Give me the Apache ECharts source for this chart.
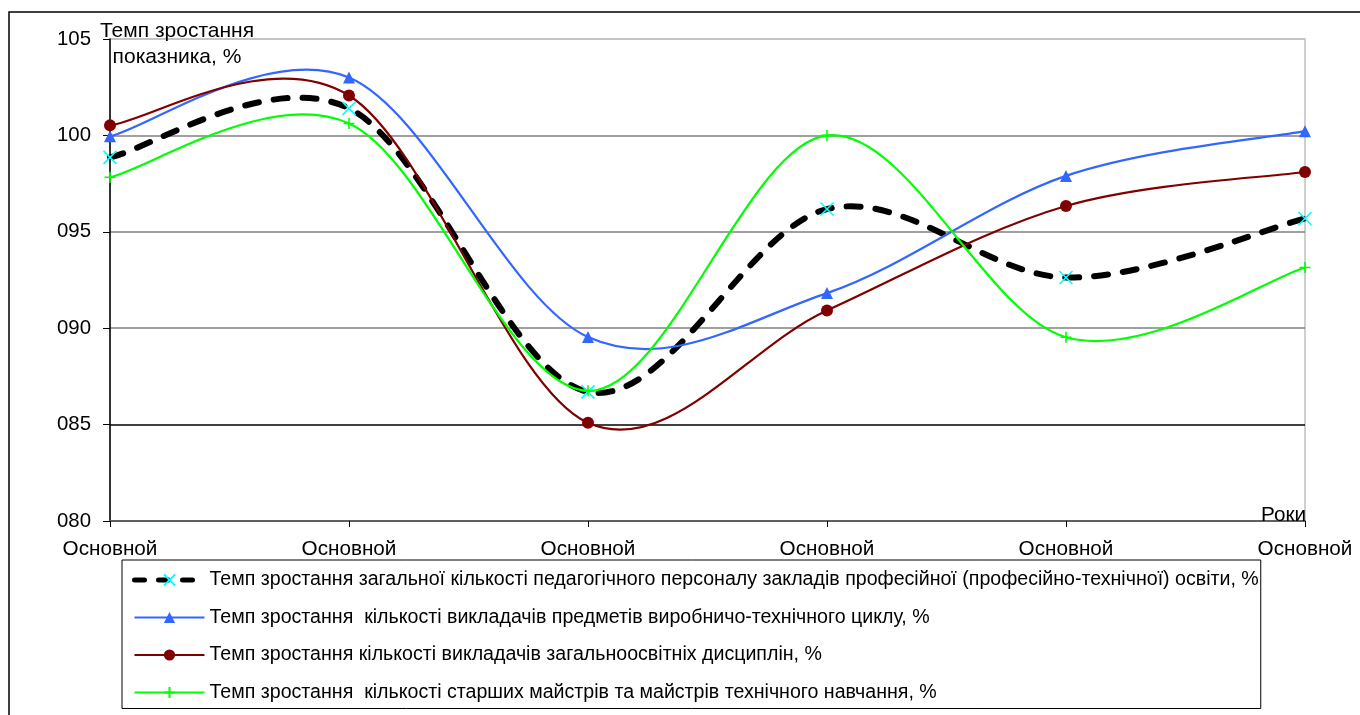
<!DOCTYPE html>
<html>
<head>
<meta charset="utf-8">
<script src="https://cdn.jsdelivr.net/npm/echarts@6/dist/echarts.min.js"></script>
<style>
html,body{margin:0;padding:0;background:#fff;}
#chart{width:1360px;height:715px;}
</style>
</head>
<body>
<div id="chart"></div>
<script>
const categories = ['Основной','Основной','Основной','Основной','Основной','Основной'];
const seriesNames = [
  'Темп зростання загальної кількості педагогічного персоналу закладів професійної (професійно-технічної) освіти, %',
  'Темп зростання  кількості викладачів предметів виробничо-технічного циклу, %',
  'Темп зростання кількості викладачів загальноосвітніх дисциплін, %',
  'Темп зростання  кількості старших майстрів та майстрів технічного навчання, %'
];
const totalStaff = [98.86, 101.4, 86.7, 96.18, 92.63, 95.69];
const vocTeachers = [99.95, 103.0, 89.54, 91.82, 97.9, 100.22];
const genTeachers = [100.52, 102.07, 85.09, 90.92, 96.34, 98.1];
const masters = [97.83, 100.62, 86.75, 100.0, 89.53, 93.15];
const yTicks = [80, 85, 90, 95, 100, 105];
const yAxisTitle = 'Темп зростання\nпоказника, %';
const xAxisTitle = 'Роки';

const FONT = '"Liberation Sans", Arial, sans-serif';
const chart = echarts.init(document.getElementById('chart'));
const xPath = 'path://M0,0L10,10M10,0L0,10';
const plusPath = 'path://M5,0L5,10M0,5L10,5';

const styles = [
  { color: '#000000', width: 6, dash: [14, 15], cap: 'round' },
  { color: '#3366ff', width: 2.2, dash: null, cap: 'butt' },
  { color: '#800000', width: 2.2, dash: null, cap: 'butt' },
  { color: '#00ff00', width: 2.2, dash: null, cap: 'butt' }
];
const dataSets = [totalStaff, vocTeachers, genTeachers, masters];

// Excel-like smoothed curve (Catmull-Rom / Bezier) through points from the axes
function curveSeries(values, st, z) {
  return {
    type: 'custom', silent: true, z: z, clip: false,
    data: values.map((v, i) => [i, v]),
    encode: { x: 0, y: 1 },
    renderItem: function (params, api) {
      if (params.dataIndex !== 0) return null;
      const pts = values.map((v, i) => api.coord([i, v]));
      const n = pts.length;
      let d = 'M' + pts[0][0] + ' ' + pts[0][1];
      for (let i = 0; i < n - 1; i++) {
        const p0 = pts[Math.max(i - 1, 0)], p1 = pts[i], p2 = pts[i + 1], p3 = pts[Math.min(i + 2, n - 1)];
        const c1x = p1[0] + (p2[0] - p0[0]) / 6, c1y = p1[1] + (p2[1] - p0[1]) / 6;
        const c2x = p2[0] - (p3[0] - p1[0]) / 6, c2y = p2[1] - (p3[1] - p1[1]) / 6;
        d += ' C' + c1x + ' ' + c1y + ' ' + c2x + ' ' + c2y + ' ' + p2[0] + ' ' + p2[1];
      }
      return {
        type: 'path',
        shape: { pathData: d },
        style: { fill: 'none', stroke: st.color, lineWidth: st.width, lineDash: st.dash, lineCap: st.cap, lineJoin: 'round' }
      };
    }
  };
}

const symbols = [xPath, 'triangle', 'circle', plusPath];
const symbolSizes = [13, 12, 12, 11];
const symbolColors = ['#00ffff', '#3366ff', '#800000', '#00ff00'];
const stroked = [true, false, false, true];

const series = [];
dataSets.forEach((vals, k) => series.push(curveSeries(vals, styles[k], 2)));
dataSets.forEach((vals, k) => series.push({
  name: seriesNames[k], type: 'line', data: vals, smooth: false, z: 3,
  lineStyle: { opacity: 0, color: styles[k].color, width: styles[k].width },
  symbol: symbols[k], symbolSize: symbolSizes[k], showSymbol: true,
  itemStyle: stroked[k]
    ? { color: symbolColors[k], borderColor: symbolColors[k], borderWidth: 1.6 }
    : { color: symbolColors[k] }
}));

chart.setOption({
  animation: false,
  backgroundColor: '#fff',
  grid: { left: 110, right: 55, top: 39, bottom: 194, show: true, borderColor: '#c0c0c0', borderWidth: 1.5 },
  xAxis: {
    type: 'category', data: categories, boundaryGap: false,
    axisLine: { lineStyle: { color: '#606060', width: 2 } },
    axisTick: { show: true, alignWithLabel: true, length: 6, lineStyle: { color: '#000' } },
    axisLabel: { color: '#000', fontFamily: FONT, fontSize: 20.7, margin: 18, interval: 0 },
    splitLine: { show: false }
  },
  yAxis: {
    type: 'value', min: yTicks[0], max: yTicks[yTicks.length - 1], interval: 5,
    axisLine: { show: true, lineStyle: { color: '#000', width: 1.5 } },
    axisTick: { show: true, inside: false, length: 7, lineStyle: { color: '#000' } },
    axisLabel: { color: '#000', fontFamily: FONT, fontSize: 20.4, margin: 19,
      formatter: v => String(v).padStart(3, '0') },
    splitLine: { show: true, lineStyle: { color: ['#808080', '#000000', '#808080', '#808080', '#808080', '#c0c0c0'], width: 1.5 } }
  },
  legend: {
    orient: 'vertical', left: 122, top: 560,
    padding: [10, 2, 6, 10],
    borderColor: '#000', borderWidth: 1,
    itemWidth: 70, itemHeight: 14, itemGap: 17.5,
    textStyle: { color: '#000', fontFamily: FONT, fontSize: 19.6 },
    data: seriesNames.map((nm, k) => ({
      name: nm,
      lineStyle: { color: styles[k].color, width: k === 0 ? 5 : 2.2, type: styles[k].dash ? [10, 14] : 'solid', cap: styles[k].cap, opacity: 1 }
    }))
  },
  graphic: [
    { type: 'rect', shape: { x: 9, y: 12, width: 1400, height: 800 }, style: { fill: 'none', stroke: '#000', lineWidth: 1.5 }, silent: true, z: 0 },
    { type: 'text', x: 177, y: 18, style: { text: yAxisTitle, font: '21px ' + FONT, fill: '#000', align: 'center', verticalAlign: 'top', lineHeight: 26 }, z: 100 },
    { type: 'text', x: 1306, y: 515, style: { text: xAxisTitle, font: '20.7px ' + FONT, fill: '#000', align: 'right', verticalAlign: 'middle' }, z: 100 }
  ],
  series: series
});
</script>
</body>
</html>
